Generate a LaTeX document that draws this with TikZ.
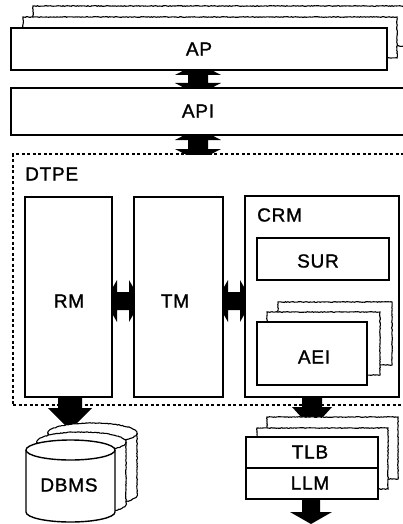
\documentclass[tikz,border=0pt]{standalone}
\usepackage{fontspec}
\setmainfont{Liberation Sans}[LetterSpace=4,FakeBold=1.3]
\usetikzlibrary{calc,backgrounds,decorations.pathmorphing}
% vertical double arrow: #1 upper node, #2 lower node, #3 x (px)
\newcommand\dblv[3]{%
  \fill let \p1=(#1.south), \p2=(#2.north) in
   ({#3pt},{\y1+7pt}) -- ({#3pt+23pt},{\y1-5pt}) -- ({#3pt+10pt},{\y1-5pt}) --
   ({#3pt+10pt},{\y2+5pt}) -- ({#3pt+23pt},{\y2+5pt}) -- ({#3pt},{\y2-7pt}) --
   ({#3pt-23pt},{\y2+5pt}) -- ({#3pt-10pt},{\y2+5pt}) -- ({#3pt-10pt},{\y1-5pt}) --
   ({#3pt-23pt},{\y1-5pt}) -- cycle;}
% horizontal double arrow: #1 left node, #2 right node, #3 y (px)
\newcommand\dblh[3]{%
  \fill let \p1=(#1.east), \p2=(#2.west) in
   ({\x1-7pt},{-#3pt}) -- ({\x1+5pt},{-#3pt+21pt}) -- ({\x1+5pt},{-#3pt+9pt}) --
   ({\x2-5pt},{-#3pt+9pt}) -- ({\x2-5pt},{-#3pt+21pt}) -- ({\x2+7pt},{-#3pt}) --
   ({\x2-5pt},{-#3pt-21pt}) -- ({\x2-5pt},{-#3pt-9pt}) -- ({\x1+5pt},{-#3pt-9pt}) --
   ({\x1+5pt},{-#3pt-21pt}) -- cycle;}
% single down arrow: #1 from node, #2 head-base coordinate, #3 x, #4 head length, #5 head half width, #6 shaft half width
\newcommand\sdown[6]{%
  \fill let \p1=(#1.south), \p2=(#2) in
   ({#3pt-#6pt},\y1) -- ({#3pt-#6pt},\y2) -- ({#3pt-#5pt},\y2) -- ({#3pt},{\y2-#4pt}) --
   ({#3pt+#5pt},\y2) -- ({#3pt+#6pt},\y2) -- ({#3pt+#6pt},\y1) -- cycle;}
\begin{document}
\begin{tikzpicture}[x=1pt,y=-1pt,
  box/.style={draw, line width=1.4pt, fill=white, inner sep=0pt, outer sep=0pt, anchor=north west},
  rough/.style={line width=1.1pt, decorate, decoration={random steps, segment length=1.3pt, amplitude=0.35pt}},
  ghost/.style={box, rough},
  dtpebox/.style={draw, line width=1.7pt, dash pattern=on 3pt off 2.5pt, inner sep=0pt, outer sep=0pt, anchor=north west},
  lbl/.style={font=\fontsize{19}{21}\selectfont, inner sep=0pt}]
\useasboundingbox (0,0) rectangle (403,524);

% AP stack
\node[ghost, minimum width=380pt, minimum height=40pt] (apb2) at (33,6) {};
\node[ghost, minimum width=374pt, minimum height=41pt] (apb1) at (23,17) {};
\node[box, minimum width=376pt, minimum height=42pt] (AP) at (11,28) {};
\node[lbl] (aptext) at (199,49) {AP};

% API
\node[box, minimum width=400pt, minimum height=47pt] (API) at (11,88) {};
\node[lbl] (apitext) at (198,111) {API};

% DTPE
\node[dtpebox, minimum width=400pt, minimum height=251pt] (DTPE) at (13,154) {};
\node[lbl, anchor=west] (dtpetext) at (25,174) {DTPE};

% RM, TM
\node[box, minimum width=87pt, minimum height=200pt] (RM) at (25,197) {};
\node[lbl] (rmtext) at (69,301) {RM};
\node[box, minimum width=89pt, minimum height=200pt] (TM) at (134,197) {};
\node[lbl] (tmtext) at (175,301) {TM};

% CRM
\node[box, minimum width=154pt, minimum height=201pt] (CRM) at (245,196) {};
\node[lbl, anchor=west] (crmtext) at (257,215) {CRM};
\node[box, minimum width=132pt, minimum height=42pt] (SUR) at (257,238) {};
\node[lbl] (surtext) at (318,261) {SUR};
\node[ghost, minimum width=114pt, minimum height=63pt] (aeib2) at (278,302) {};
\node[ghost, minimum width=113pt, minimum height=63pt] (aeib1) at (267,312) {};
\node[box, minimum width=110pt, minimum height=63pt] (AEI) at (257,322) {};
\node[lbl] (aeitext) at (314,357) {AEI};

% TLB / LLM stack
\node[ghost, minimum width=131pt, minimum height=62pt] (tlbb2) at (267,417) {};
\node[ghost, minimum width=131pt, minimum height=61pt] (tlbb1) at (257,428) {};
\node[box, minimum width=132pt, minimum height=31pt] (TLB) at (246,437) {};
\node[box, minimum width=132pt, minimum height=31pt] (LLM) at (246,468) {};
\node[lbl] (tlbtext) at (310,452) {TLB};
\node[lbl] (llmtext) at (310,483) {LLM};

% DBMS cylinders
\filldraw[rough, fill=white] (48,433) -- (48,495) arc[start angle=180, end angle=360, x radius=44.5pt, y radius=10pt]
  -- (137,433) arc[start angle=0, end angle=180, x radius=44.5pt, y radius=10pt] -- cycle;
\draw[rough] (48,433) arc[start angle=180, end angle=360, x radius=44.5pt, y radius=10pt];
\filldraw[rough, fill=white] (37,442) -- (37,504) arc[start angle=180, end angle=360, x radius=44.5pt, y radius=10pt]
  -- (126,442) arc[start angle=0, end angle=180, x radius=44.5pt, y radius=10pt] -- cycle;
\draw[rough] (37,442) arc[start angle=180, end angle=360, x radius=44.5pt, y radius=10pt];
\filldraw[line width=1.4pt, fill=white] (26,450) -- (26,512) arc[start angle=180, end angle=360, x radius=44.5pt, y radius=10pt]
  -- (115,450) arc[start angle=0, end angle=180, x radius=44.5pt, y radius=10pt] -- cycle;
\draw[line width=1.4pt] (26,450) arc[start angle=180, end angle=360, x radius=44.5pt, y radius=10pt];
\node[lbl] (dbmstext) at (69,485) {DBMS};

\coordinate (dbhead) at (70,408);
\coordinate (tlbhead) at (312,407);
\coordinate (outhead) at (311,512);

\begin{pgfonlayer}{background}
  \dblv{AP}{API}{198}
  \begin{scope}
    \clip (0,0) rectangle (403,154);
    \dblv{API}{DTPE}{198}
  \end{scope}
  \dblh{RM}{TM}{301}
  \dblh{TM}{CRM}{301}
  \dblv{SUR}{aeib2}{316}
  \sdown{RM}{dbhead}{70}{22}{22}{12}
  \sdown{CRM}{tlbhead}{312}{22}{20}{10}
  \sdown{LLM}{outhead}{311}{12}{21}{9}
\end{pgfonlayer}
\end{tikzpicture}
\end{document}
